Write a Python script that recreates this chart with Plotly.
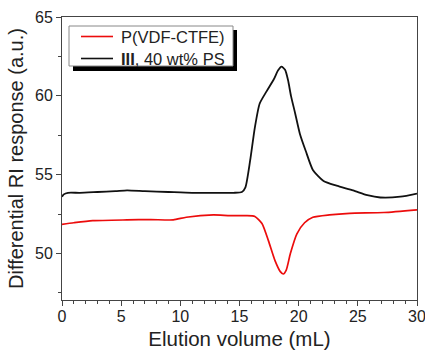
import plotly.graph_objects as go

# Data
black_x = [0, 0.15, 0.5, 1.5, 3, 4.5, 5.5, 7, 9, 11, 13, 14.5, 15.2, 15.5, 15.9, 16.3, 16.7, 17.3, 17.9, 18.25, 18.55, 18.85, 19.1, 19.35, 19.7, 20.1, 20.6, 21.2, 22.1, 23.2, 24.6, 25.8, 26.9, 28.6, 30]
black_y = [53.6, 53.75, 53.85, 53.85, 53.9, 53.95, 54.0, 53.95, 53.9, 53.85, 53.85, 53.85, 53.9, 54.2, 55.9, 58.0, 59.5, 60.3, 61.05, 61.6, 61.85, 61.65, 61.0, 60.0, 58.9, 57.6, 56.5, 55.3, 54.6, 54.3, 54.0, 53.7, 53.55, 53.6, 53.8]

red_x = [0, 1, 2.6, 5.5, 7.5, 9.4, 10.5, 12.8, 14.2, 15.5, 16.3, 16.9, 17.45, 18.0, 18.45, 18.7, 18.95, 19.3, 19.85, 20.5, 21.2, 22.6, 24.3, 27.2, 30]
red_y = [51.85, 51.95, 52.08, 52.13, 52.15, 52.13, 52.3, 52.45, 52.4, 52.4, 52.35, 51.9, 50.8, 49.55, 48.85, 48.7, 48.95, 50.0, 51.25, 51.95, 52.3, 52.45, 52.55, 52.6, 52.77]

series_names = ["P(VDF-CTFE)", "<b>III</b>, 40 wt% PS"]
series_colors = ["#ec0c0c", "#111111"]
x_ticks = [0, 5, 10, 15, 20, 25, 30]
y_ticks = [50, 55, 60, 65]

FONT = "Liberation Sans, Arial, sans-serif"
W, H = 425, 353
ML, MR, MT, MB = 62, 8, 17, 53
PW, PH = W - ML - MR, H - MT - MB


def px(x):
    return (x - ML) / PW


def py(y):
    return (H - MB - y) / PH


fig = go.Figure()
fig.add_trace(go.Scatter(x=red_x, y=red_y, mode="lines", name=series_names[0], showlegend=False,
                         line=dict(color=series_colors[0], width=1.7, shape="spline", smoothing=0.6)))
fig.add_trace(go.Scatter(x=black_x, y=black_y, mode="lines", name=series_names[1], showlegend=False,
                         line=dict(color=series_colors[1], width=1.8, shape="spline", smoothing=0.6)))

axis_common = dict(showline=True, linecolor="#444", linewidth=1, mirror=True, automargin=False,
                   ticks="outside", ticklen=5, tickcolor="#444", showgrid=False, zeroline=False,
                   ticklabeloverflow="allow",
                   tickfont=dict(family=FONT, size=16, color="#222"))

fig.update_xaxes(range=[0, 30], tickvals=x_ticks, ticklabelstandoff=-3,
                 minor=dict(dtick=1, ticks="outside", ticklen=3, tickcolor="#444"),
                 title=dict(text="Elution volume (mL)", font=dict(family=FONT, size=20.5, color="#222"), standoff=7),
                 **axis_common)
fig.update_yaxes(range=[47.05, 65], tickvals=y_ticks,
                 minor=dict(tick0=47.5, dtick=2.5, ticks="outside", ticklen=3, tickcolor="#444"),
                 title=dict(text="Differential RI response (a.u.)", font=dict(family=FONT, size=20, color="#222"), standoff=6),
                 **axis_common)

# manual legend: shadow, box, sample lines, labels
fig.add_shape(type="rect", xref="paper", yref="paper", x0=px(73), x1=px(237), y0=py(71), y1=py(30),
              fillcolor="black", line=dict(width=0), layer="above")
fig.add_shape(type="rect", xref="paper", yref="paper", x0=px(69), x1=px(233), y0=py(66), y1=py(26),
              fillcolor="white", line=dict(width=1, color="#888"), layer="above")
for i, ly in enumerate([36.5, 58.5]):
    fig.add_shape(type="line", xref="paper", yref="paper", x0=px(81), x1=px(113), y0=py(ly), y1=py(ly),
                  line=dict(color=series_colors[i], width=1.6), layer="above")
    fig.add_annotation(xref="paper", yref="paper", x=px(119), y=py(ly), xanchor="left", yanchor="middle",
                       text=series_names[i], showarrow=False,
                       font=dict(family=FONT, size=16.5, color="#222"))

fig.update_layout(
    width=W, height=H,
    margin=dict(l=ML, r=MR, t=MT, b=MB),
    paper_bgcolor="white", plot_bgcolor="white",
    showlegend=False,
)

fig.write_html("out.html", config={"displayModeBar": False},
               post_script="document.body.style.margin='0';document.body.style.overflow='hidden';")
